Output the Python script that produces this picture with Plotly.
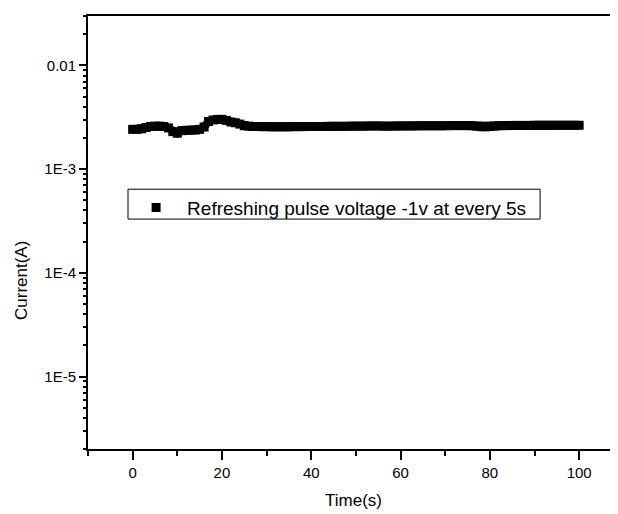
import plotly.graph_objects as go

# time (s) and current (A)
time_s = list(range(0, 101))
current_mA = [
    2.42, 2.42, 2.45, 2.52, 2.58, 2.60, 2.60, 2.58, 2.50, 2.30,
    2.22, 2.35, 2.37, 2.38, 2.38, 2.42, 2.55, 2.88, 2.98, 3.02,
    3.02, 2.95, 2.85, 2.80, 2.72, 2.62, 2.60, 2.58, 2.58, 2.57,
    2.57, 2.56, 2.56, 2.56, 2.56, 2.56, 2.57, 2.57, 2.57, 2.58,
    2.58, 2.58, 2.58, 2.58, 2.59, 2.59, 2.59, 2.59, 2.59, 2.60,
    2.60, 2.60, 2.60, 2.61, 2.61, 2.61, 2.60, 2.60, 2.60, 2.61,
    2.61, 2.61, 2.61, 2.61, 2.62, 2.62, 2.62, 2.62, 2.62, 2.62,
    2.62, 2.63, 2.63, 2.63, 2.63, 2.63, 2.62, 2.60, 2.57, 2.56,
    2.58, 2.60, 2.62, 2.63, 2.63, 2.64, 2.64, 2.64, 2.64, 2.64,
    2.65, 2.65, 2.65, 2.65, 2.65, 2.65, 2.65, 2.65, 2.65, 2.65,
    2.65,
]
current = [v * 1e-3 for v in current_mA]

series_name = "Refreshing pulse voltage -1v at every 5s"

x_major = [0, 20, 40, 60, 80, 100]
x_minor = [-10, 10, 30, 50, 70, 90]
y_major = [1e-5, 1e-4, 1e-3, 1e-2]
y_labels = ["1E-5", "1E-4", "1E-3", "0.01"]
y_minor = [m * 10 ** e for e in range(-6, -1) for m in range(2, 10)]

font = "Liberation Sans, Arial, sans-serif"
y_range = [-5.699, -1.523]

fig = go.Figure()
# connecting band, drawn on the overlay axis that carries the minor ticks
fig.add_trace(go.Scatter(x=time_s, y=current, mode="lines", yaxis="y2",
                         line=dict(color="black", width=8),
                         showlegend=False, hoverinfo="skip"))
fig.add_trace(go.Scatter(x=time_s, y=current, mode="markers", name=series_name,
                         marker=dict(symbol="square", size=9, color="black")))

# the page body adds 8px around the figure, so the figure is 8px smaller
fig.update_layout(
    width=610, height=506,
    margin=dict(l=80, r=0, t=8, b=65),
    plot_bgcolor="white", paper_bgcolor="white",
    font=dict(family=font, size=15, color="black"),
    showlegend=True,
    legend=dict(x=0.07, y=0.601, xanchor="left", yanchor="top",
                bgcolor="rgba(0,0,0,0)", borderwidth=0,
                font=dict(size=19), itemwidth=52),
    xaxis=dict(
        range=[-10, 108.7], showgrid=False, zeroline=False, automargin=False,
        showline=True, linecolor="black", linewidth=2, mirror=True,
        ticks="outside", ticklen=9, tickwidth=1.5, tickcolor="black",
        tickvals=x_major,
        minor=dict(tickvals=x_minor, ticks="outside",
                   ticklen=5, tickwidth=1.5, tickcolor="black"),
    ),
    yaxis=dict(
        type="log", range=y_range, showgrid=False, zeroline=False,
        automargin=False, showline=True, linecolor="black", linewidth=2,
        ticks="outside", ticklen=7, tickwidth=1.5, tickcolor="black",
        tickvals=y_major, ticktext=y_labels,
    ),
    # minor ticks of the log axis
    yaxis2=dict(
        type="log", range=y_range, overlaying="y", side="left", anchor="x",
        showgrid=False, zeroline=False, showline=False, automargin=False,
        ticks="outside", ticklen=4, tickwidth=1.5, tickcolor="black",
        tickvals=y_minor, showticklabels=False,
    ),
)
# legend frame
fig.add_shape(type="rect", xref="paper", yref="paper",
              x0=0.0755, x1=0.853, y0=0.531, y1=0.600,
              line=dict(color="black", width=1))

# axis titles
fig.add_annotation(text="Time(s)", xref="paper", yref="paper",
                   x=0.5, y=-0.118, showarrow=False,
                   font=dict(size=17), xanchor="center", yanchor="middle")
fig.add_annotation(text="Current(A)", xref="paper", yref="paper",
                   x=-0.1245, y=0.388, showarrow=False, textangle=-90,
                   font=dict(size=17), xanchor="center", yanchor="middle")

fig.write_html("out.html")
